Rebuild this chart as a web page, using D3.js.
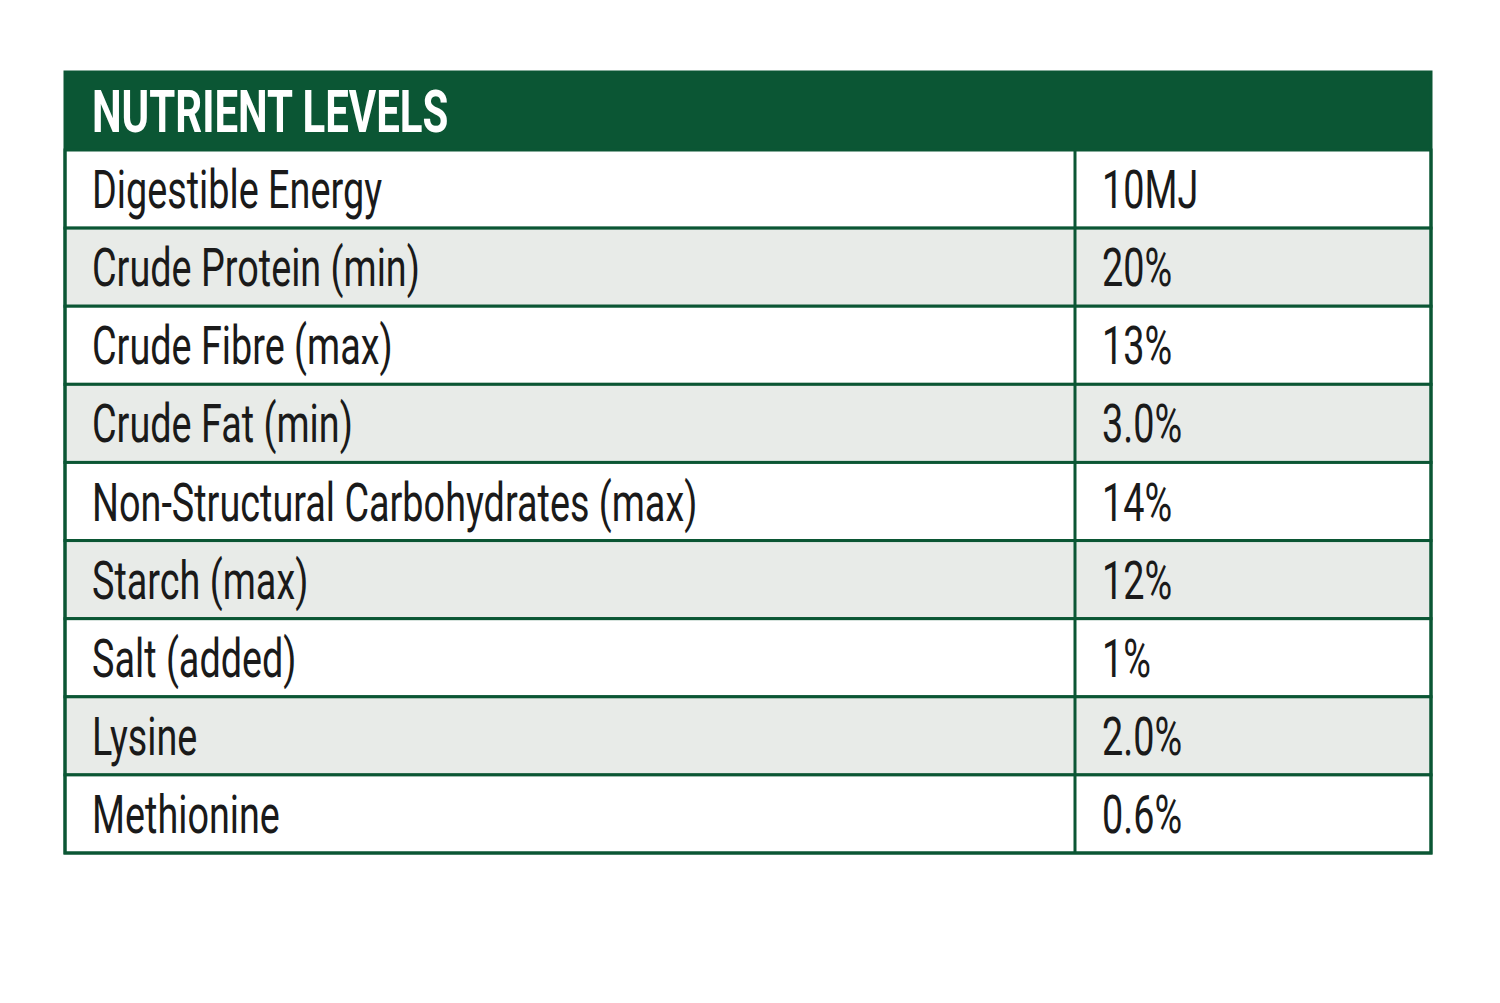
<!DOCTYPE html>
<html>
<head>
<meta charset="utf-8">
<script src="https://cdn.jsdelivr.net/npm/d3@7"></script>
<style>
  body { margin: 0; background: #fff; }
</style>
</head>
<body>
<script>
const width = 1500;
const height = 1003;

const title = 'NUTRIENT LEVELS';
const nutrients = [
  'Digestible Energy',
  'Crude Protein (min)',
  'Crude Fibre (max)',
  'Crude Fat (min)',
  'Non-Structural Carbohydrates (max)',
  'Starch (max)',
  'Salt (added)',
  'Lysine',
  'Methionine'
];
const levels = ['10MJ', '20%', '13%', '3.0%', '14%', '12%', '1%', '2.0%', '0.6%'];

const green = '#0b5634';
const stripe = '#e8ebe8';
const tableLeft = 65, tableRight = 1431, split = 1075;
const tableTop = 72, headerBottom = 150, tableBottom = 853;
const squeeze = 0.7;

const svg = d3.select('body').append('svg').attr('width', width).attr('height', height);

const y = d3.scaleBand()
  .domain(d3.range(nutrients.length))
  .range([headerBottom, tableBottom]);

// header
svg.append('rect')
  .attr('x', tableLeft).attr('y', tableTop)
  .attr('width', tableRight - tableLeft).attr('height', headerBottom - tableTop)
  .attr('fill', green);

svg.append('text')
  .attr('transform', `translate(92, ${tableTop + 60}) scale(${squeeze},1)`)
  .attr('font-family', 'Roboto, sans-serif')
  .attr('font-weight', 'bold')
  .attr('font-size', 60)
  .attr('fill', '#fff')
  .text(title);

const rows = svg.selectAll('g.row')
  .data(nutrients)
  .enter()
  .append('g')
  .attr('class', 'row')
  .attr('transform', (_, i) => `translate(0, ${y(i)})`);

rows.append('rect')
  .attr('x', tableLeft).attr('y', 0)
  .attr('width', tableRight - tableLeft).attr('height', y.bandwidth())
  .attr('fill', (_, i) => (i % 2 ? stripe : '#fff'))
  .attr('stroke', green)
  .attr('stroke-width', 3);

rows.append('text')
  .attr('transform', `translate(92, ${y.bandwidth() / 2 + 19}) scale(${squeeze},1)`)
  .attr('font-family', 'Roboto, sans-serif')
  .attr('font-size', 54)
  .attr('fill', '#1a1a1a')
  .text(d => d);

rows.append('text')
  .attr('transform', `translate(1102, ${y.bandwidth() / 2 + 19}) scale(${squeeze},1)`)
  .attr('font-family', 'Roboto, sans-serif')
  .attr('font-size', 54)
  .attr('fill', '#1a1a1a')
  .text((_, i) => levels[i]);

svg.append('line')
  .attr('x1', split).attr('x2', split)
  .attr('y1', headerBottom).attr('y2', tableBottom)
  .attr('stroke', green).attr('stroke-width', 3);

svg.append('rect')
  .attr('x', tableLeft).attr('y', tableTop)
  .attr('width', tableRight - tableLeft).attr('height', tableBottom - tableTop)
  .attr('fill', 'none')
  .attr('stroke', green).attr('stroke-width', 3);
</script>
</body>
</html>
